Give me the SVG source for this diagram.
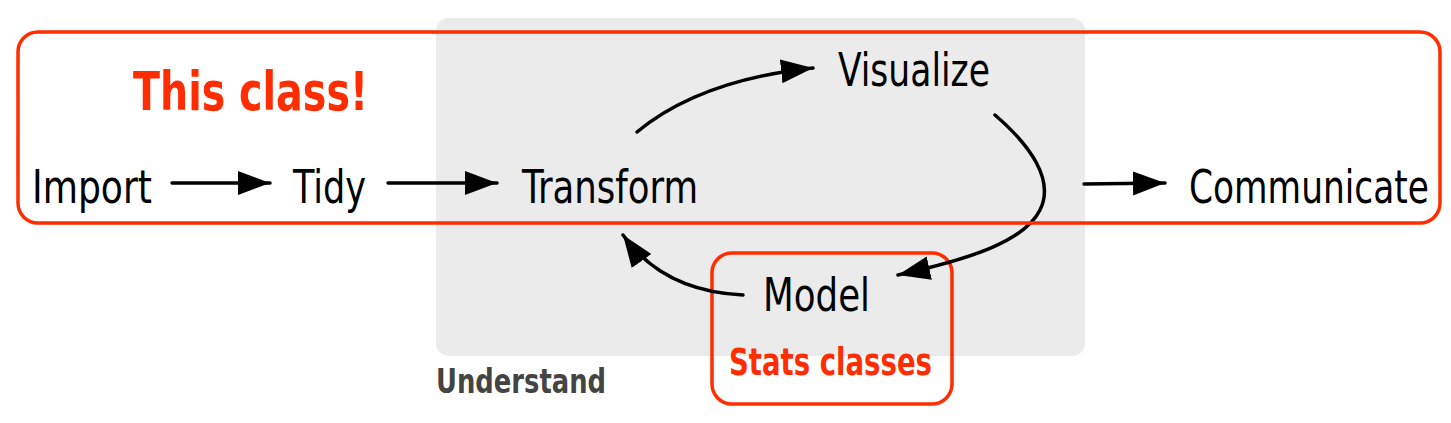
<svg xmlns="http://www.w3.org/2000/svg" width="1451" height="423" viewBox="0 0 1451 423">
<style>
.bg{fill:#ffffff}
.understand{fill:#ebebeb}
.redbox{fill:none;stroke:#ff2d00;stroke-width:3.5}
.lbl{font-family:"DejaVu Sans Condensed","DejaVu Sans",sans-serif;font-stretch:condensed;font-size:47px;fill:#000}
.hand{font-family:"DejaVu Sans Condensed","DejaVu Sans",sans-serif;font-stretch:condensed;font-weight:bold;fill:#ff2d00}
.grp{font-family:"DejaVu Sans Condensed","DejaVu Sans",sans-serif;font-stretch:condensed;font-weight:bold;font-size:33px;fill:#444444}
.con{fill:none;stroke:#000;stroke-width:3.5;stroke-linecap:round;marker-end:url(#ah)}
</style>
<defs>
<marker id="ah" markerUnits="userSpaceOnUse" viewBox="0 0 34 26" markerWidth="34" markerHeight="26" refX="32" refY="12" orient="auto">
<path d="M0,0 L32,12 L0,24 z" fill="#000"/>
</marker>
</defs>
<rect class="bg" x="0" y="0" width="1451" height="423"/>
<g id="understand-region">
<rect class="understand" x="436" y="18" width="649" height="338" rx="13"/>
<text class="grp" x="436" y="393" textLength="170" lengthAdjust="spacingAndGlyphs">Understand</text>
</g>
<g id="stats-box">
<rect class="redbox" x="712" y="253" width="240" height="151" rx="20"/>
<text class="hand" x="729" y="375" font-size="37" textLength="203" lengthAdjust="spacingAndGlyphs">Stats classes</text>
</g>
<g id="connectors">
<path class="con" d="M172,183 L270,183"/>
<path class="con" d="M388,183 L497,183"/>
<path class="con" d="M637,132 Q700,80 813,68"/>
<path class="con" d="M995,115 C1030,145 1055,180 1040,210 C1025,240 975,258 898,275"/>
<path class="con" d="M743,295 C700,293 655,280 623,235"/>
<path class="con" d="M1084,184 L1165,183"/>
</g>
<g id="this-class-box">
<rect class="redbox" x="18" y="32" width="1422" height="191" rx="20"/>
<text class="hand" x="133" y="110" font-size="54" textLength="235" lengthAdjust="spacingAndGlyphs">This class!</text>
</g>
<g id="node-import"><text class="lbl" x="32" y="203" textLength="120" lengthAdjust="spacingAndGlyphs">Import</text></g>
<g id="node-tidy"><text class="lbl" x="293" y="203" textLength="73" lengthAdjust="spacingAndGlyphs">Tidy</text></g>
<g id="node-transform"><text class="lbl" x="522" y="203" textLength="176" lengthAdjust="spacingAndGlyphs">Transform</text></g>
<g id="node-visualize"><text class="lbl" x="838" y="86" textLength="152" lengthAdjust="spacingAndGlyphs">Visualize</text></g>
<g id="node-model"><text class="lbl" x="763" y="311" textLength="107" lengthAdjust="spacingAndGlyphs">Model</text></g>
<g id="node-communicate"><text class="lbl" x="1189" y="203" textLength="240" lengthAdjust="spacingAndGlyphs">Communicate</text></g>
</svg>
